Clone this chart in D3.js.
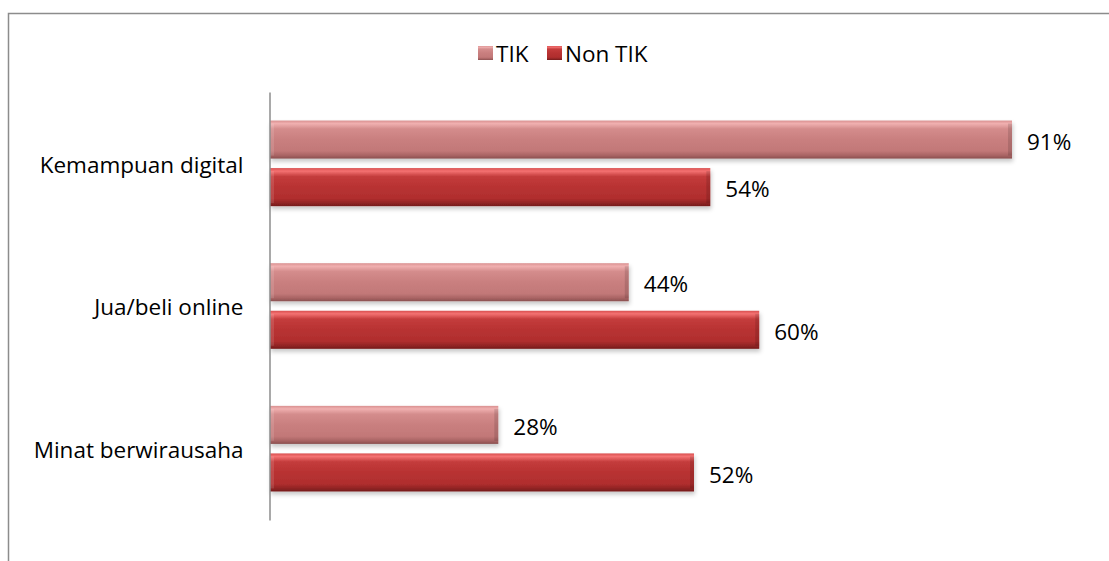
<!DOCTYPE html>
<html><head><meta charset="utf-8">
<script src="https://cdn.jsdelivr.net/npm/d3@7"></script>
<style>
html,body{margin:0;padding:0;background:#fff;}
svg{display:block;font-family:"Open Sans", sans-serif;}
</style></head>
<body>
<svg id="chart" width="1109" height="561"></svg>
<script>
const categories = ["Kemampuan digital", "Jua/beli online", "Minat berwirausaha"];
const seriesNames = ["TIK", "Non TIK"];
const tikValues = [91, 44, 28];
const nonTikValues = [54, 60, 52];

const FONT = "'Open Sans', sans-serif";
const FS = 22.5;
const svg = d3.select("#chart");

svg.append("rect").attr("x", 8.5).attr("y", 13.5).attr("width", 1200).attr("height", 700)
  .attr("fill", "none").attr("stroke", "#8c8c8c").attr("stroke-width", 1.5);

const defs = svg.append("defs");
function grad(id, stops) {
  const g = defs.append("linearGradient").attr("id", id).attr("x1", 0).attr("y1", 0).attr("x2", 0).attr("y2", 1);
  stops.forEach(s => g.append("stop").attr("offset", s[0]).attr("stop-color", s[1]));
}
grad("gTIK", [[0, "#d99090"], [0.08, "#f0b0b0"], [0.22, "#d48c8c"], [0.5, "#c97f7f"], [0.8, "#c27878"], [0.92, "#a86363"], [1, "#8a5050"]]);
grad("gNON", [[0, "#d85050"], [0.08, "#f47272"], [0.22, "#c43c3c"], [0.5, "#b83232"], [0.8, "#b02e2e"], [0.92, "#902424"], [1, "#741a1a"]]);
const f = defs.append("filter").attr("id", "sh").attr("x", "-5%").attr("y", "-20%").attr("width", "110%").attr("height", "160%");
f.append("feDropShadow").attr("dx", 1).attr("dy", 3).attr("stdDeviation", 2).attr("flood-color", "#000").attr("flood-opacity", 0.22);

const x = d3.scaleLinear().domain([0, 91]).range([270, 1012]);
const y = d3.scaleBand().domain(categories).range([92, 520]).paddingInner(0.4).paddingOuter(0.2);
const ys = d3.scaleBand().domain(seriesNames).range([0, y.bandwidth()]).paddingInner(0.2);

const data = [];
categories.forEach((c, i) => {
  data.push({cat: c, s: "TIK", v: tikValues[i]});
  data.push({cat: c, s: "Non TIK", v: nonTikValues[i]});
});

const g = svg.append("g");
g.selectAll("rect.bar").data(data).join("rect").attr("class", "bar")
  .attr("x", x(0)).attr("y", d => y(d.cat) + ys(d.s))
  .attr("width", d => x(d.v) - x(0)).attr("height", ys.bandwidth())
  .attr("fill", d => d.s === "TIK" ? "url(#gTIK)" : "url(#gNON)")
  .attr("filter", "url(#sh)");
g.selectAll("rect.endL").data(data).join("rect").attr("class", "endL")
  .attr("x", d => x(d.v) - 4).attr("y", d => y(d.cat) + ys(d.s) + 3)
  .attr("width", 4).attr("height", ys.bandwidth() - 6)
  .attr("fill", "#000").attr("opacity", 0.12);
g.selectAll("rect.startL").data(data).join("rect").attr("class", "startL")
  .attr("x", x(0)).attr("y", d => y(d.cat) + ys(d.s) + 3)
  .attr("width", 4).attr("height", ys.bandwidth() - 6)
  .attr("fill", "#fff").attr("opacity", 0.12);

g.selectAll("text.val").data(data).join("text").attr("class", "val")
  .attr("x", d => x(d.v) + 15).attr("y", d => y(d.cat) + ys(d.s) + ys.bandwidth() / 2)
  .attr("dy", "0.45em").attr("font-size", FS).attr("font-family", FONT).attr("fill", "#000")
  .text(d => d.v + "%");

const axis = d3.axisLeft(y).tickSize(0).tickPadding(26);
const ax = svg.append("g").attr("transform", `translate(${x(0) - 0.5},0)`).call(axis);
ax.select(".domain").attr("stroke", "#8c8c8c").attr("stroke-width", 1.5);
ax.selectAll("text").attr("font-size", FS).attr("fill", "#000").attr("font-family", FONT).attr("dy", "0.42em");

const lg = svg.append("g");
const legendItems = [{s: "TIK", fill: "url(#gTIK)", x: 478}, {s: "Non TIK", fill: "url(#gNON)", x: 547}];
lg.selectAll("rect").data(legendItems).join("rect")
  .attr("x", d => d.x).attr("y", 46).attr("width", 15).attr("height", 14)
  .attr("fill", d => d.fill);
lg.selectAll("text").data(legendItems).join("text")
  .attr("x", d => d.x + 18).attr("y", 53).attr("dy", "0.4em")
  .attr("font-size", FS).attr("font-family", FONT).attr("fill", "#000").text(d => d.s);
</script>
</body></html>
